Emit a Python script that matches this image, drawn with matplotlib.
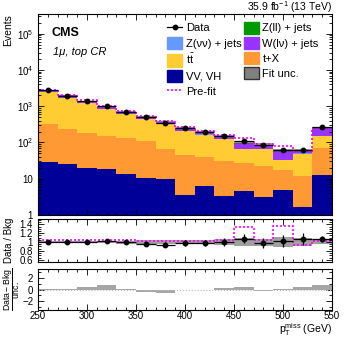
import numpy as np
import matplotlib
matplotlib.use("Agg")
import matplotlib.pyplot as plt
from matplotlib.patches import Patch
from matplotlib.lines import Line2D
from matplotlib.ticker import MultipleLocator, LogLocator, NullFormatter

plt.rcParams['font.family'] = ['Liberation Sans', 'DejaVu Sans']
plt.rcParams['mathtext.fontset'] = 'custom'
plt.rcParams['mathtext.rm'] = 'Liberation Sans'
plt.rcParams['mathtext.it'] = 'Liberation Sans:italic'
plt.rcParams['mathtext.bf'] = 'Liberation Sans:bold'

# ---------------- data ----------------
edges = [250, 270, 290, 310, 330, 350, 370, 390, 410, 430, 450, 470, 490, 510, 530, 550]
vv_vh = [29.5, 25.5, 20, 19, 13, 10.7, 9.9, 3.45, 6.2, 3.3, 4.35, 2.95, 4.77, 1.55, 12.8]
t_x = [291, 207, 163, 136, 120, 97, 57, 42, 33, 28, 23, 19, 13, 10.6, 57]
ttbar = [2100, 1487, 1007, 675, 482, 327, 248, 163, 126, 90, 37, 45, 14, 37, 81]
z_ll = [6, 4, 3, 2.5, 2, 1.5, 1, 0.8, 0.6, 0.5, 0.4, 0.3, 0.3, 0.2, 0.8]
z_nn = [8, 6, 4, 3, 2.5, 2, 1.5, 1, 0.8, 0.6, 0.5, 0.4, 0.3, 0.3, 1]
w_lnu = [325, 260, 188, 144, 95, 77, 56, 45, 29, 28, 34, 20, 28, 9.4, 91]
data = [2790, 1975, 1390, 1010, 710, 495, 351, 250, 192, 151, 107, 86, 62, 63, 260]
prefit = [2880, 2070, 1440, 1035, 740, 530, 385, 263, 202, 156, 133, 91, 82, 55, 251]
fit_unc = [0.03, 0.03, 0.03, 0.03, 0.035, 0.04, 0.04, 0.045, 0.05, 0.06, 0.10, 0.08, 0.12, 0.10, 0.04]
ratio_err = [0.02, 0.025, 0.03, 0.035, 0.04, 0.045, 0.055, 0.065, 0.075, 0.085, 0.1, 0.11, 0.13, 0.13, 0.07]
pulls = [0.1, 0.15, 0.45, 0.7, 0.05, -0.45, -0.55, -0.1, 0.0, 0.3, 0.5, -0.3, 0.1, 0.4, 0.7]

edges = np.array(edges, float)
centers = 0.5 * (edges[1:] + edges[:-1])
halfw = 0.5 * (edges[1:] - edges[:-1])

components = [
    ("VV, VH", vv_vh, "#000099"),
    ("t+X", t_x, "#ff9933"),
    (r"$\mathrm{t\bar{t}}$", ttbar, "#ffcc33"),
    ("Z(ll) + jets", z_ll, "#009900"),
    ("Z(\u03bd\u03bd) + jets", z_nn, "#6699ff"),
    ("W(l\u03bd) + jets", w_lnu, "#9933ff"),
]

fig = plt.figure(figsize=(3.49, 3.38), dpi=100)
L, R = 38 / 349, 332 / 349
H = 338.0
ax = fig.add_axes([L, 1 - 215 / H, R - L, (215 - 14) / H])
axr = fig.add_axes([L, 1 - 262 / H, R - L, (262 - 219) / H])
axp = fig.add_axes([L, 1 - 310 / H, R - L, (310 - 269) / H])

# ---------------- main panel ----------------
bottom = np.full(len(centers), 0.1)
handles = {}
for name, vals, col in components:
    top = bottom + np.array(vals, float)
    ax.stairs(top, edges, baseline=bottom, fill=True, color=col, lw=0)
    handles[name] = Patch(facecolor=col, edgecolor=col)
    bottom = top
total = bottom - 0.1
unc = np.array(fit_unc)
ax.stairs(total * (1 + unc), edges, baseline=total * (1 - unc), fill=True,
          color="#555555", alpha=0.6, lw=0)
ax.stairs(prefit, edges, color="#ff00ff", lw=1.2, ls=(0, (1.2, 1.2)), baseline=None)
data = np.array(data, float)
ax.errorbar(centers, data, yerr=np.sqrt(data), xerr=halfw, fmt='o', color='black',
            ms=3.2, lw=0.9, capsize=0)

ax.set_yscale('log')
ax.set_xlim(250, 550)
ax.set_ylim(1, 3.5e5)
ax.yaxis.set_minor_locator(LogLocator(base=10, subs=np.arange(2, 10), numticks=10))
ax.yaxis.set_minor_formatter(NullFormatter())
ax.set_yticks([1, 10, 100, 1e3, 1e4, 1e5])
ax.set_yticklabels(["1", "10", r"$10^2$", r"$10^3$", r"$10^4$", r"$10^5$"])
ax.set_xticklabels([])
ax.set_ylabel("Events", fontsize=7.5, loc='top')
ax.yaxis.set_label_coords(-0.085, 1.0)

ax.text(0.045, 0.905, "CMS", transform=ax.transAxes, fontsize=9, fontweight='bold', va='center')
ax.text(0.05, 0.81, "1\u03bc, top CR", transform=ax.transAxes, fontsize=8, style='italic', va='center')
fig.text(R, 1 - 7 / H, r"35.9 fb$^{-1}$ (13 TeV)", ha='right', va='center', fontsize=7.5)

leg_handles = [
    Line2D([], [], color='black', marker='o', ms=3.2, lw=0.9),
    handles["Z(\u03bd\u03bd) + jets"],
    handles[r"$\mathrm{t\bar{t}}$"],
    handles["VV, VH"],
    Line2D([], [], color='#ff00ff', lw=1.2, ls=(0, (1.2, 1.2))),
    handles["Z(ll) + jets"],
    handles["W(l\u03bd) + jets"],
    handles["t+X"],
    Patch(facecolor='#808080', edgecolor='#333333'),
]
leg_labels = ["Data", "Z(\u03bd\u03bd) + jets", r"$\mathrm{t\bar{t}}$", "VV, VH", "Pre-fit",
              "Z(ll) + jets", "W(l\u03bd) + jets", "t+X", "Fit unc."]
ax.legend(leg_handles, leg_labels, ncol=2, loc='upper left', bbox_to_anchor=(0.44, 0.962),
          frameon=False, fontsize=8, handlelength=1.35, handleheight=1.3, handletextpad=0.3,
          columnspacing=0.25, labelspacing=0.28, borderaxespad=0.0, borderpad=0.0)

# ---------------- ratio panel ----------------
ratio = data / total
runc = np.array(fit_unc)
axr.stairs(1 + runc, edges, baseline=1 - runc, fill=True, color='#888888', alpha=0.8, lw=0)
axr.stairs(np.array(prefit) / total, edges, color='#ff00ff', lw=1.2, ls=(0, (1.2, 1.2)), baseline=None)
axr.errorbar(centers, ratio, yerr=ratio_err, xerr=halfw, fmt='o', color='black', ms=3.2, lw=0.9, capsize=0)
axr.set_xlim(250, 550)
axr.set_ylim(0.55, 1.52)
axr.set_yticks([0.6, 0.8, 1, 1.2, 1.4])
axr.set_yticklabels(["0.6", "0.8", "1", "1.2", "1.4"])
axr.yaxis.set_minor_locator(MultipleLocator(0.05))
axr.set_xticklabels([])
axr.set_ylabel("Data / Bkg", fontsize=7)
axr.yaxis.set_label_coords(-0.082, 0.5)

# ---------------- pull panel ----------------
axp.stairs(pulls, edges, baseline=0, fill=True, color='#a6a6a6', lw=0)
axp.axhline(0, color='#bbbbbb', lw=0.8, ls=':')
axp.set_xlim(250, 550)
axp.set_ylim(-3.5, 3.5)
axp.set_yticks([-2, 0, 2])
axp.yaxis.set_minor_locator(MultipleLocator(1))
axp.set_ylabel(r"$\dfrac{\mathrm{Data - Bkg}}{\mathrm{unc.}}$", fontsize=6.3)
axp.yaxis.set_label_coords(-0.055, 0.5)
fig.text(R, 1 - 329.5 / H, r"p$_\mathrm{T}^\mathrm{miss}$ (GeV)", ha='right', va='center', fontsize=7.5)

for a in (ax, axr, axp):
    a.xaxis.set_major_locator(MultipleLocator(50))
    a.xaxis.set_minor_locator(MultipleLocator(10))
    a.tick_params(which='both', direction='in', top=True, right=True, labelsize=7, width=0.6)
    a.tick_params(which='major', length=4)
    a.tick_params(which='minor', length=2)
    for s in a.spines.values():
        s.set_linewidth(0.8)
axp.tick_params(axis='x', pad=1)

fig.savefig("out.png", dpi=100)
